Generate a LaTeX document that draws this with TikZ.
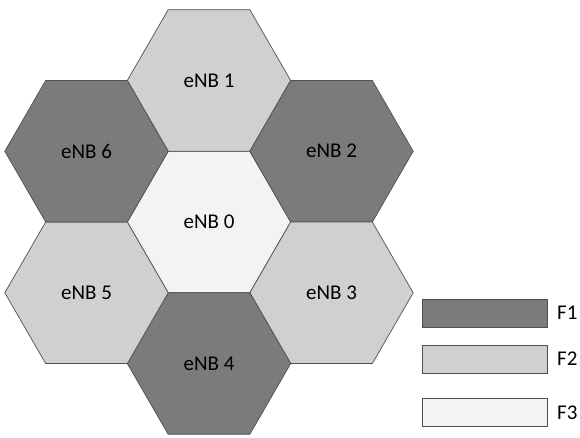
\documentclass[tikz,border=0pt]{standalone}
\usepackage{fontspec}
\setmainfont{Carlito}
\usetikzlibrary{shapes.geometric}
\definecolor{fone}{HTML}{7B7B7B}
\definecolor{ftwo}{HTML}{D0D0D0}
\definecolor{fthree}{HTML}{F3F3F3}
\definecolor{edgec}{HTML}{4F4F4F}
\tikzset{
  hexcell/.style={regular polygon, regular polygon sides=6, minimum size=163.4pt,
    inner sep=0pt, outer sep=0pt, draw=edgec, line width=0.7pt,
    font=\fontsize{21}{24}\selectfont, text=black},
  legbox/.style={draw=edgec, line width=0.7pt, minimum width=125pt, minimum height=28pt,
    inner sep=0pt, outer sep=0pt},
  leglabel/.style={anchor=west, inner sep=0pt, font=\fontsize{21}{24}\selectfont}
}
\begin{document}
\begin{tikzpicture}[x=1pt,y=1pt]
\useasboundingbox (0,0) rectangle (580,-437);
\node[hexcell, fill=fthree] (c0) at (209,-222) {eNB 0};
\node[hexcell, fill=ftwo] (c1) at (209,-80.5) {eNB 1};
\node[hexcell, fill=fone] (c2) at (331.5,-151.25) {eNB 2};
\node[hexcell, fill=ftwo] (c3) at (331.5,-292.75) {eNB 3};
\node[hexcell, fill=fone] (c4) at (209,-363.5) {eNB 4};
\node[hexcell, fill=ftwo] (c5) at (86.5,-292.75) {eNB 5};
\node[hexcell, fill=fone] (c6) at (86.5,-151.25) {eNB 6};
\node[legbox, fill=fone] (l1) at (484.5,-313) {};
\node[legbox, fill=ftwo] (l2) at (484.5,-359) {};
\node[legbox, fill=fthree] (l3) at (484.5,-412.5) {};
\node[leglabel] (t1) at (557,-313) {F1};
\node[leglabel] (t2) at (557,-359) {F2};
\node[leglabel] (t3) at (557,-412.5) {F3};
\end{tikzpicture}
\end{document}
